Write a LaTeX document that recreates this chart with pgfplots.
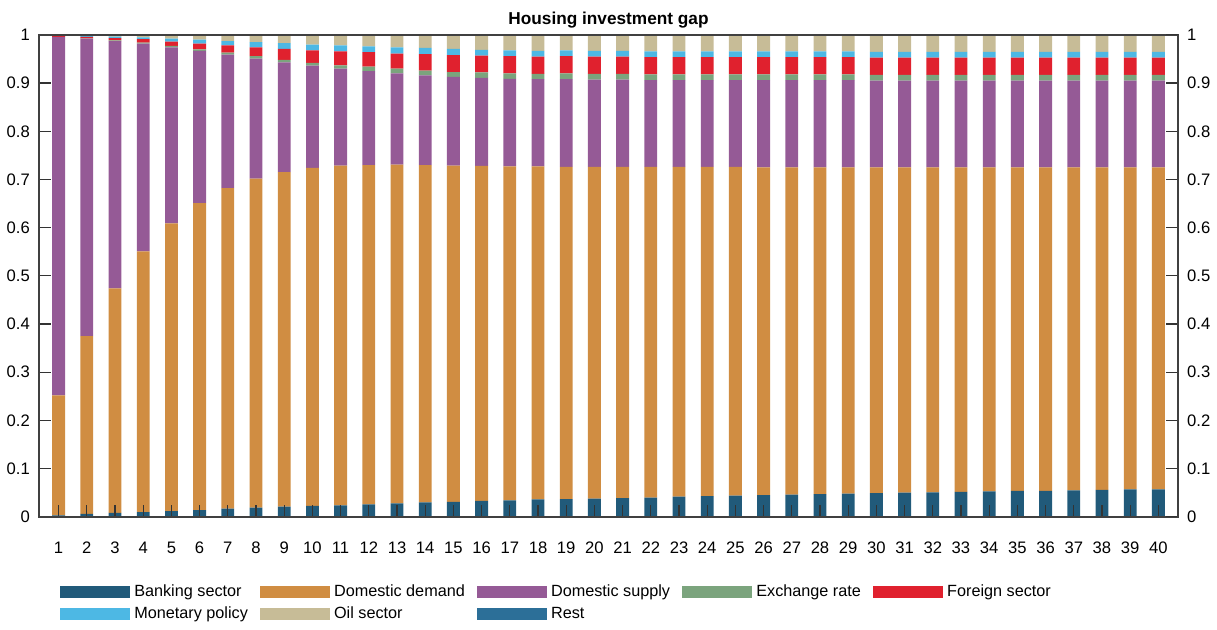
\documentclass[border=0pt]{standalone}
\usepackage{pgfplots}
\pgfplotsset{compat=1.18}
\usepackage{pgfplotstable}
\usepackage{fontspec}
\setmainfont{Liberation Sans}

\definecolor{cbank}{HTML}{215A7A}
\definecolor{cdd}{HTML}{D08D42}
\definecolor{cds}{HTML}{955A96}
\definecolor{cex}{HTML}{7BA47D}
\definecolor{cfo}{HTML}{E0212E}
\definecolor{cmp}{HTML}{4DB8E4}
\definecolor{coil}{HTML}{C7BC97}
\definecolor{crest}{HTML}{2C6F98}

% contributions per horizon, stacked bottom to top
\pgfplotstableread{
x  bank  dd    ds    ex     fo    mp     oil    rest
1  0.003 0.249 0.744 0.000  0.003 0.0005 0.0005 0
2  0.006 0.369 0.617 0.001  0.003 0.002  0.002  0
3  0.008 0.466 0.513 0.0015 0.005 0.003  0.0035 0
4  0.010 0.541 0.431 0.002  0.007 0.004  0.005  0
5  0.012 0.597 0.365 0.003  0.009 0.006  0.008  0
6  0.014 0.637 0.316 0.003  0.012 0.008  0.010  0
7  0.017 0.665 0.277 0.004  0.015 0.009  0.013  0
8  0.019 0.683 0.249 0.005  0.018 0.011  0.015  0
9  0.021 0.694 0.228 0.005  0.023 0.012  0.017  0
10 0.023 0.701 0.212 0.006  0.026 0.012  0.020  0
11 0.024 0.705 0.201 0.007  0.029 0.012  0.022  0
12 0.026 0.704 0.195 0.009  0.030 0.012  0.024  0
13 0.028 0.703 0.189 0.010  0.031 0.013  0.026  0
14 0.030 0.700 0.186 0.010  0.034 0.013  0.027  0
15 0.031 0.698 0.184 0.010  0.035 0.013  0.029  0
16 0.033 0.695 0.183 0.011  0.035 0.012  0.031  0
17 0.034 0.693 0.182 0.011  0.036 0.012  0.032  0
18 0.036 0.691 0.181 0.011  0.036 0.012  0.033  0
19 0.037 0.689 0.182 0.012  0.036 0.012  0.032  0
20 0.038 0.688 0.181 0.012  0.036 0.012  0.033  0
21 0.039 0.687 0.181 0.012  0.036 0.012  0.033  0
22 0.040 0.686 0.180 0.012  0.036 0.012  0.034  0
23 0.042 0.684 0.180 0.012  0.036 0.012  0.034  0
24 0.043 0.683 0.180 0.012  0.036 0.012  0.034  0
25 0.044 0.682 0.180 0.012  0.036 0.012  0.034  0
26 0.045 0.680 0.181 0.012  0.036 0.012  0.034  0
27 0.046 0.679 0.181 0.012  0.036 0.012  0.034  0
28 0.047 0.678 0.181 0.012  0.036 0.012  0.034  0
29 0.048 0.677 0.181 0.012  0.036 0.012  0.034  0
30 0.049 0.676 0.180 0.012  0.036 0.012  0.035  0
31 0.050 0.675 0.180 0.012  0.036 0.012  0.035  0
32 0.051 0.674 0.180 0.012  0.036 0.012  0.035  0
33 0.052 0.673 0.180 0.012  0.036 0.012  0.035  0
34 0.053 0.672 0.180 0.012  0.036 0.012  0.035  0
35 0.054 0.671 0.180 0.012  0.036 0.012  0.035  0
36 0.054 0.671 0.180 0.012  0.036 0.012  0.035  0
37 0.055 0.670 0.180 0.012  0.036 0.012  0.035  0
38 0.056 0.669 0.180 0.012  0.036 0.012  0.035  0
39 0.057 0.668 0.180 0.012  0.036 0.012  0.035  0
40 0.057 0.668 0.180 0.012  0.036 0.012  0.035  0
}\gapdata

\begin{document}
\begin{tikzpicture}
\pgfplotsset{
  common/.style={
    scale only axis, width=568.5pt, height=240.5pt,
    xmin=0.3, xmax=40.7, ymin=0, ymax=1,
    ytick={0,0.1,0.2,0.3,0.4,0.5,0.6,0.7,0.8,0.9,1},
    tick align=inside, major tick length=6pt,
    tick style={black!80, line width=0.6pt},
    axis line style={black!75, line width=0.7pt},
    /pgf/number format/assume math mode=true,
    ticklabel style={font=\fontsize{8.3}{10}\selectfont},
  }
}
\begin{axis}[
  common,
  ybar stacked, bar width=6.4pt,
  axis on top,
  xtick={1,...,40}, xtick pos=bottom, ytick pos=left,
  x tick label style={yshift=-9pt},
  yticklabel style={xshift=-1pt},
  title={\bfseries Housing investment gap},
  title style={font=\fontsize{8.6}{10}\selectfont, yshift=-6pt},
  legend style={draw=none, fill=none, at={(axis description cs:0.013,-0.124)},
    anchor=north west, font=\fontsize{8.1}{10}\selectfont,
    legend columns=5, legend cell align=left, row sep=-0.5pt,
    /tikz/every even column/.append style={column sep=4pt},
    /tikz/every odd column/.append style={column sep=0pt}},
  legend image code/.code={\fill[#1] (0pt,-3pt) rectangle (35pt,3pt);},
]
\addplot[fill=cbank, draw=none] table[x=x, y=bank] {\gapdata};
\addplot[fill=cdd, draw=none] table[x=x, y=dd] {\gapdata};
\addplot[fill=cds, draw=none] table[x=x, y=ds] {\gapdata};
\addplot[fill=cex, draw=none] table[x=x, y=ex] {\gapdata};
\addplot[fill=cfo, draw=none] table[x=x, y=fo] {\gapdata};
\addplot[fill=cmp, draw=none] table[x=x, y=mp] {\gapdata};
\addplot[fill=coil, draw=none] table[x=x, y=oil] {\gapdata};
\addplot[fill=crest, draw=none] table[x=x, y=rest] {\gapdata};
\legend{Banking sector, Domestic demand, Domestic supply, Exchange rate, Foreign sector, Monetary policy, Oil sector, Rest}
\end{axis}
\begin{axis}[
  common,
  hide x axis, axis y line*=right,
  yticklabel style={xshift=1pt},
]
\addplot[draw=none] coordinates {(1,0) (40,1)};
\end{axis}
% a little white room above the title
\path ([yshift=2.5pt]current bounding box.north);
\end{tikzpicture}
\end{document}
